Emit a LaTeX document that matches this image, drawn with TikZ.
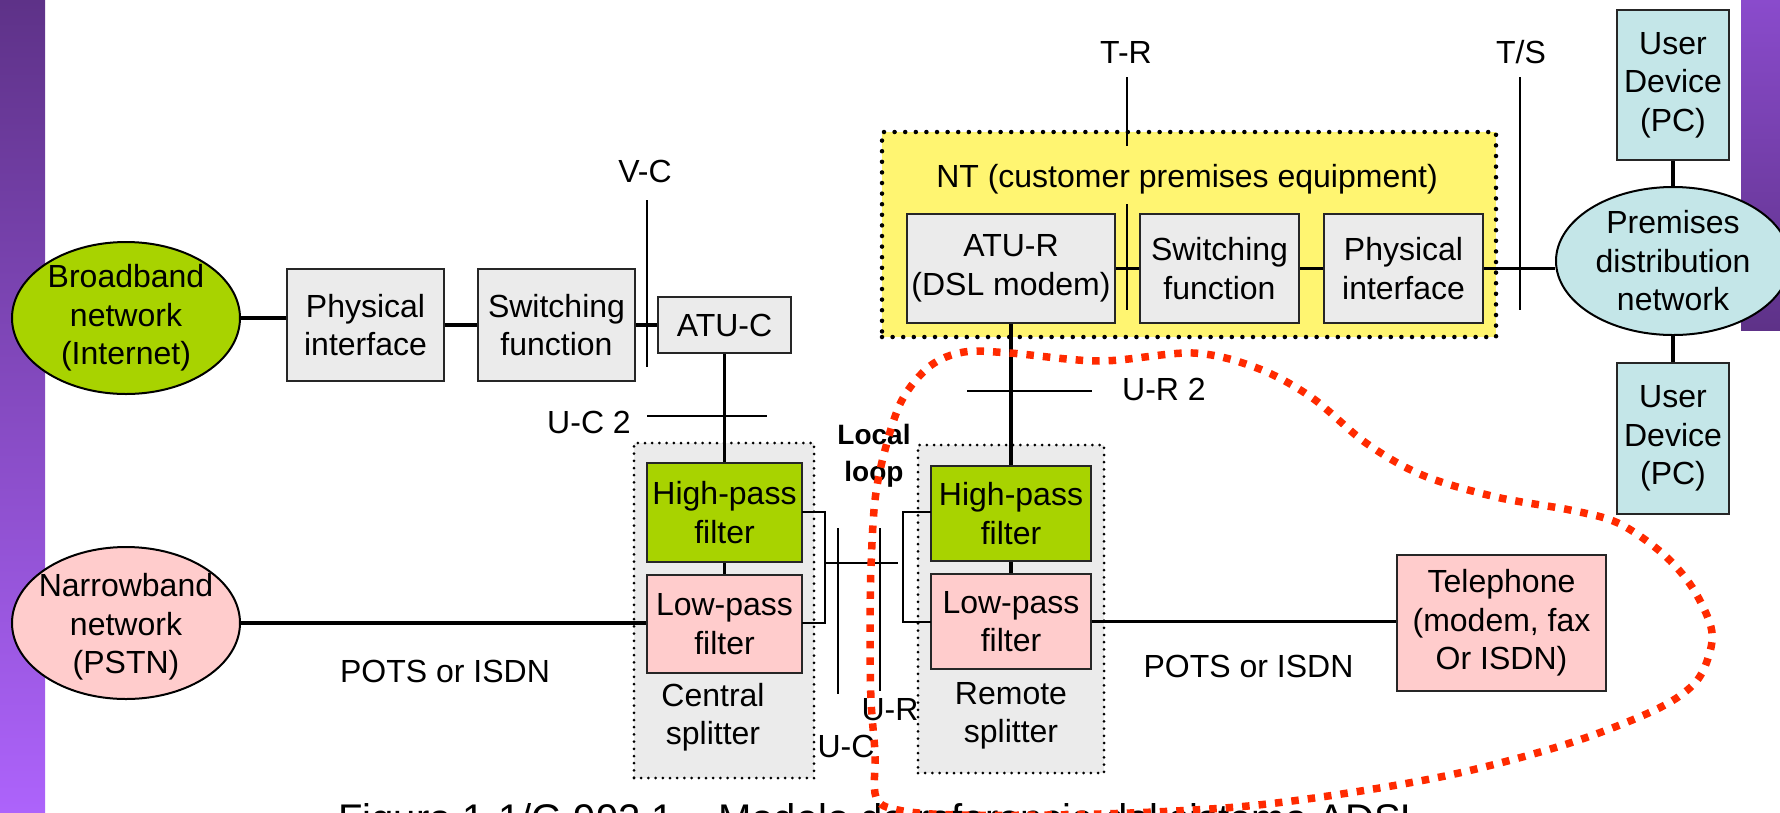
\documentclass[tikz,border=0pt]{standalone}
\usepackage{fontspec}
\setmainfont{Liberation Sans}
\usetikzlibrary{shapes.geometric}
\definecolor{bbgreen}{HTML}{A8D300}
\definecolor{pinkfill}{HTML}{FFCCCC}
\definecolor{boxgray}{HTML}{EBEBEB}
\definecolor{ntyellow}{HTML}{FFF571}
\definecolor{pccyan}{HTML}{C4E6E8}
\definecolor{loopred}{HTML}{FF2A00}
\definecolor{bardark}{HTML}{5E3288}
\definecolor{barlight}{HTML}{AD63FB}
\definecolor{barmid}{HTML}{8A4BCC}
\newcommand{\mainfs}{\fontsize{32}{38.5}\selectfont}
\newcommand{\loopfs}{\bfseries\fontsize{28}{37}\selectfont}
\newcommand{\capfs}{\fontsize{40}{48}\selectfont}

\begin{document}
\begin{tikzpicture}[x=1pt, y=-1pt,
  box/.style={draw=black!85, line width=2.2pt, fill=boxgray, inner sep=0pt, align=center, font=\mainfs},
  netell/.style={ellipse, draw=black, line width=2pt, inner sep=0pt},
  txt/.style={align=center, font=\mainfs, inner sep=0pt},
  wire/.style={line width=3.2pt},
  refline/.style={line width=1.8pt},
  ntframe/.style={fill=ntyellow, draw, line width=4.5pt, dash pattern=on 0pt off 10.6pt, line cap=round},
  splitframe/.style={fill=boxgray, draw, line width=3pt, dash pattern=on 0pt off 7.2pt, line cap=round},
  redloop/.style={draw=loopred, line width=7.5pt, dash pattern=on 7.5pt off 9pt}]
  \clip (0,0) rectangle (1780,812);
  % side bars
  \shade[top color=bardark, bottom color=barlight] (0,0) rectangle (45,812);
  \shade[top color=barmid, bottom color=bardark] (1741,0) rectangle (1780,330);

  % central office side
  \node[netell, fill=bbgreen, minimum width=228, minimum height=152] (bbnet) at (126,318) {};
  \node[txt] at (bbnet) {Broadband\\network\\(Internet)};
  \node[box, minimum width=157, minimum height=112] (phys1) at (365.5,325) {Physical\\interface};
  \node[box, minimum width=157, minimum height=112] (swit1) at (556.5,325) {Switching\\function};
  \node[box, minimum width=133, minimum height=56] (atuc) at (724.5,325) {ATU-C};
  \node[netell, fill=pinkfill, minimum width=228, minimum height=152] (nbnet) at (126,623) {};
  \node[txt] at (126,627) {Narrowband\\network\\(PSTN)};

  % customer premises
  \node[ntframe, minimum width=614, minimum height=205] (nt) at (1189,234.5) {};
  \node[txt, anchor=base] (nttitle) at (1187,187) {NT (customer premises equipment)};
  \node[box, minimum width=208, minimum height=109] (atur) at (1011,268.5) {ATU-R\\(DSL modem)};
  \node[box, minimum width=159, minimum height=109] (swit2) at (1219.5,268.5) {Switching\\function};
  \node[box, minimum width=159, minimum height=109] (phys2) at (1403.5,268.5) {Physical\\interface};
  \node[netell, fill=pccyan, minimum width=234, minimum height=148] (prem) at (1673,261) {};
  \node[txt] at (prem) {Premises\\distribution\\network};
  \node[box, fill=pccyan, minimum width=112, minimum height=150] (pc1) at (1673,85) {User\\Device\\(PC)};
  \node[box, fill=pccyan, minimum width=112, minimum height=151] (pc2) at (1673,438.5) {User\\Device\\(PC)};
  \node[box, fill=pinkfill, minimum width=209, minimum height=136] (phone) at (1501.5,623) {Telephone\\(modem, fax\\Or ISDN)};

  % splitters
  \node[splitframe, minimum width=180, minimum height=335] (csplit) at (724,610.5) {};
  \node[splitframe, minimum width=186, minimum height=328] (rsplit) at (1011,609) {};
  \node[box, fill=bbgreen, minimum width=155, minimum height=99] (hp1) at (724.5,512.5) {High-pass\\filter};
  \node[box, fill=pinkfill, minimum width=155, minimum height=98] (lp1) at (724.5,624) {Low-pass\\filter};
  \node[box, fill=bbgreen, minimum width=160, minimum height=95] (hp2) at (1011,513.5) {High-pass\\filter};
  \node[box, fill=pinkfill, minimum width=160, minimum height=95] (lp2) at (1011,621.5) {Low-pass\\filter};
  \node[txt] (ctext) at (713,717) {Central\\splitter};
  \node[txt] (rtext) at (1011,716) {Remote\\splitter};
  \node[align=center, font=\loopfs, inner sep=0pt] (lloop) at (874,456) {Local\\loop};

  % labels
  \node[txt, anchor=base] (vc) at (645,182) {V-C};
  \node[txt, anchor=base] (tr) at (1126,63) {T-R};
  \node[txt, anchor=base] (ts) at (1521,63) {T/S};
  \node[txt, anchor=base east] (uc2) at (631,433) {U-C 2};
  \node[txt, anchor=base west] (ur2) at (1122,400) {U-R 2};
  \node[txt, anchor=base] (ur) at (890,720) {U-R};
  \node[txt, anchor=base] (uc) at (846,757) {U-C};
  \node[txt, anchor=base] (pots1) at (445,682) {POTS or ISDN};
  \node[txt, anchor=base] (pots2) at (1248.5,677) {POTS or ISDN};

  % wires
  \draw[wire] (bbnet.east) -- (bbnet.east -| phys1.west);
  \draw[wire] (phys1) -- (swit1);
  \draw[wire] (swit1) -- (atuc);
  \draw[wire] (atuc) -- (hp1);
  \draw[wire] (hp1) -- (lp1);
  \draw[wire] (nbnet.east) -- (nbnet.east -| lp1.west);
  \draw[wire] (atur) -- (swit2);
  \draw[wire] (swit2) -- (phys2);
  \draw[wire] (phys2.east) -- (phys2.east -| prem.west);
  \draw[wire] (pc1) -- (prem);
  \draw[wire] (prem) -- (pc2);
  \draw[wire] (atur) -- (hp2);
  \draw[wire] (hp2) -- (lp2);
  \draw[wire] (lp2.east) -- (lp2.east -| phone.west);

  % local loop
  \draw[refline] (802,512) -- (825,512) -- (825,623) -- (802,623);
  \draw[refline] (825,563) -- (898,563);
  \draw[refline] (931,512) -- (903,512) -- (903,622) -- (931,622);

  % reference points
  \draw[refline] (647,200) -- (647,367);
  \draw[refline] (647,416) -- (767,416);
  \draw[refline] (967,391) -- (1092,391);
  \draw[refline] (1127,77) -- (1127,146);
  \draw[refline] (1127,204) -- (1127,310);
  \draw[refline] (1520,77) -- (1520,310);
  \draw[refline] (838,528) -- (838,694);
  \draw[refline] (880,528) -- (880,691);

  \node[anchor=base west, font=\capfs, inner sep=0pt] (caption) at (338,832) {Figura 1-1/G.992.1 – Modelo de referencia del sistema ADSL};

  \draw[redloop] plot[smooth cycle, tension=0.55] coordinates {(964,352) (1010,353) (1100,361) (1193,353) (1257,368) (1311,397) (1366,443) (1422,475) (1496,497) (1570,510) (1618,523) (1662,553) (1692,587) (1711,627) (1709,655) (1694,684) (1655,710) (1570,743) (1459,773) (1348,793) (1237,807) (1100,814) (960,815) (898,810) (876,797) (875,753) (871,700) (870,633) (871,567) (875,500) (885,450) (902,400) (930,366)};
\end{tikzpicture}
\end{document}
